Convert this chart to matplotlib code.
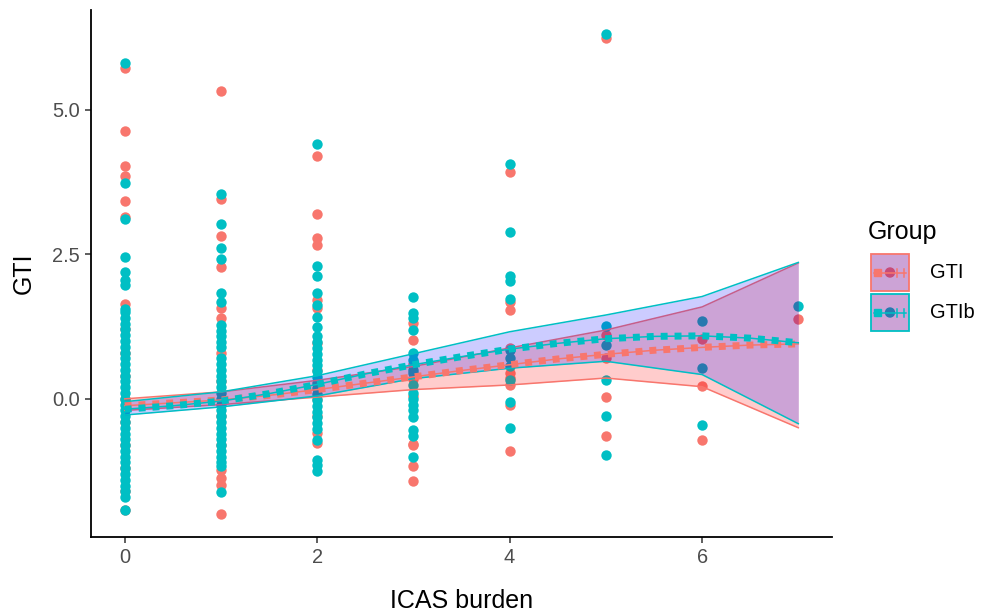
import matplotlib.pyplot as plt
from matplotlib.patches import Rectangle, Circle

plt.rcParams['font.family'] = ['Liberation Sans', 'DejaVu Sans']

# ICAS burden categories
burden = [0, 1, 2, 3, 4, 5, 6, 7]

# observed GTI values per burden level
gti_points = [
    [5.72, 4.64, 4.03, 3.85, 3.43, 3.15, 1.64, 1.2, 0.8, 0.4, 0.0, -0.4, -0.8, -1.2, -1.6, -1.93],
    [5.32, 3.45, 2.81, 2.28, 1.57, 1.40, 0.80, 0.3, -0.3, -0.8, -1.23, -1.37, -1.49, -1.99],
    [4.20, 3.19, 2.78, 2.66, 1.71, 1.57, 0.97, 0.5, 0.0, -0.3, -0.59, -0.76],
    [1.31, 1.02, 0.60, 0.35, 0.05, -0.78, -0.80, -1.17, -1.43],
    [3.92, 1.68, 1.53, 0.88, 0.45, 0.36, 0.24, -0.10, -0.91],
    [6.24, 1.11, 0.70, 0.04, -0.64],
    [1.03, 0.22, -0.72],
    [1.38],
]

# observed GTIb values per burden level
gtib_points = [
    [5.81, 3.73, 3.11, 2.45, 2.19, 2.05, 1.97, 1.56,
     1.5, 1.4, 1.3, 1.2, 1.1, 1.0, 0.9, 0.8, 0.7, 0.6, 0.5, 0.4, 0.3, 0.2, 0.1, 0.0,
     -0.1, -0.2, -0.3, -0.4, -0.5, -0.6, -0.7, -0.8, -0.9, -1.0, -1.1, -1.2, -1.3,
     -1.4, -1.5, -1.6, -1.7, -1.92],
    [3.55, 3.03, 2.61, 2.42, 1.83, 1.68, 1.28, 1.18, 1.08, 0.98, 0.90, 0.70, 0.60,
     0.50, 0.40, 0.30, 0.20, 0.10, 0.0, -0.10, -0.20, -0.30, -0.40, -0.50, -0.60,
     -0.70, -0.80, -0.90, -1.00, -1.10, -1.17, -1.61],
    [4.41, 2.29, 2.13, 1.83, 1.63, 1.42, 1.25, 1.08, 0.98, 0.88, 0.78, 0.68, 0.58,
     0.48, 0.38, 0.28, 0.18, 0.08, -0.02, -0.12, -0.22, -0.32, -0.42, -0.52, -0.71,
     -1.05, -1.15, -1.25],
    [1.76, 1.48, 1.40, 1.19, 0.79, 0.67, 0.50, 0.45, 0.24, 0.10, 0.0, -0.10, -0.19,
     -0.31, -0.54, -0.65, -1.00],
    [4.06, 2.88, 2.12, 2.03, 1.73, 0.85, 0.71, 0.56, 0.33, -0.05, -0.51],
    [6.32, 1.26, 0.93, 0.33, -0.29, -0.98],
    [1.35, 0.53, -0.45],
    [1.61],
]

# confidence bands at each burden level
gti_lo = [-0.20, -0.10, 0.03, 0.16, 0.24, 0.36, 0.21, -0.50]
gti_hi = [0.00, 0.12, 0.32, 0.56, 0.88, 1.19, 1.59, 2.35]
gtib_lo = [-0.28, -0.14, 0.05, 0.35, 0.53, 0.65, 0.42, -0.43]
gtib_hi = [-0.05, 0.12, 0.40, 0.78, 1.16, 1.45, 1.77, 2.36]

# fitted curves
fit_x = [0, 0.5, 1, 1.5, 2, 2.5, 3, 3.5, 4, 4.5, 5, 5.5, 6, 6.5, 7]
gti_fit = [-0.12, -0.07, -0.02, 0.06, 0.16, 0.27, 0.38, 0.49, 0.59, 0.69, 0.77, 0.84, 0.89, 0.93, 0.95]
gtib_fit = [-0.18, -0.12, -0.04, 0.09, 0.25, 0.43, 0.59, 0.73, 0.86, 0.96, 1.04, 1.08, 1.09, 1.05, 0.97]

c_gti = '#F8766D'
c_gtib = '#00BFC4'

fig = plt.figure(figsize=(9.84, 6.13), dpi=100)
ax = fig.add_axes([0.0925, 0.124, 0.753, 0.86])

# points first (ribbons are drawn over them)
for pts_list, col in [(gti_points, c_gti), (gtib_points, c_gtib)]:
    xs, ys = [], []
    for b, vals in zip(burden, pts_list):
        xs += [b] * len(vals)
        ys += vals
    ax.scatter(xs, ys, s=56, color=col, linewidths=0, zorder=1)

# ribbons
ax.fill_between(burden, gti_lo, gti_hi, color='red', alpha=0.2, linewidth=0, zorder=2)
ax.plot(burden, gti_lo, color=c_gti, lw=1.1, zorder=2)
ax.plot(burden, gti_hi, color=c_gti, lw=1.1, zorder=2)
ax.fill_between(burden, gtib_lo, gtib_hi, color='blue', alpha=0.2, linewidth=0, zorder=2)
ax.plot(burden, gtib_lo, color=c_gtib, lw=1.1, zorder=2)
ax.plot(burden, gtib_hi, color=c_gtib, lw=1.1, zorder=2)

# fitted lines: thin line + square dashes
for fit, col in [(gti_fit, c_gti), (gtib_fit, c_gtib)]:
    ax.plot(fit_x, fit, color=col, lw=1.1, zorder=3)
    ax.plot(fit_x, fit, color=col, lw=5, dashes=(1, 1), zorder=3)

ax.set_xlim(-0.35, 7.35)
ax.set_ylim(-2.39, 6.73)
ax.set_xticks([0, 2, 4, 6])
ax.set_yticks([0.0, 2.5, 5.0])
ax.set_yticklabels(['0.0', '2.5', '5.0'])
for s in ['top', 'right']:
    ax.spines[s].set_visible(False)
for s in ['left', 'bottom']:
    ax.spines[s].set_linewidth(1.3)
ax.tick_params(length=4, width=1.1, color='#333333', labelsize=14.4, labelcolor='#4d4d4d', pad=4)
ax.set_xlabel('ICAS burden', fontsize=18, labelpad=16)
ax.set_ylabel('GTI', fontsize=18, labelpad=12)

# legend drawn by hand in pixel coordinates
lax = fig.add_axes([0, 0, 1, 1])
lax.set_xlim(0, 984)
lax.set_ylim(613, 0)
lax.axis('off')
lax.text(868, 232, 'Group', fontsize=18, va='center', ha='left')
for yc, col, lab in [(272.5, c_gti, 'GTI'), (312.5, c_gtib, 'GTIb')]:
    lax.add_patch(Circle((890, yc), 4.5, color=col, zorder=1))
    lax.add_patch(Rectangle((871, yc - 18.5), 38, 37, facecolor='red', alpha=0.2, lw=0, zorder=2))
    lax.add_patch(Rectangle((871, yc - 18.5), 38, 37, facecolor='blue', alpha=0.2, lw=0, zorder=2))
    lax.add_patch(Rectangle((871, yc - 18.5), 38, 37, facecolor='none', edgecolor=col, lw=1.3, zorder=3))
    lax.plot([874, 906], [yc, yc], color=col, lw=1.1, zorder=3)
    lax.add_patch(Rectangle((874, yc - 3.5), 7, 7, color=col, zorder=3))
    lax.plot([897, 897], [yc - 4, yc + 4], color=col, lw=1.1, zorder=3)
    lax.plot([904, 904], [yc - 4, yc + 4], color=col, lw=1.1, zorder=3)
    lax.text(930, yc, lab, fontsize=14.4, va='center', ha='left')

fig.savefig('out.png', dpi=100)
